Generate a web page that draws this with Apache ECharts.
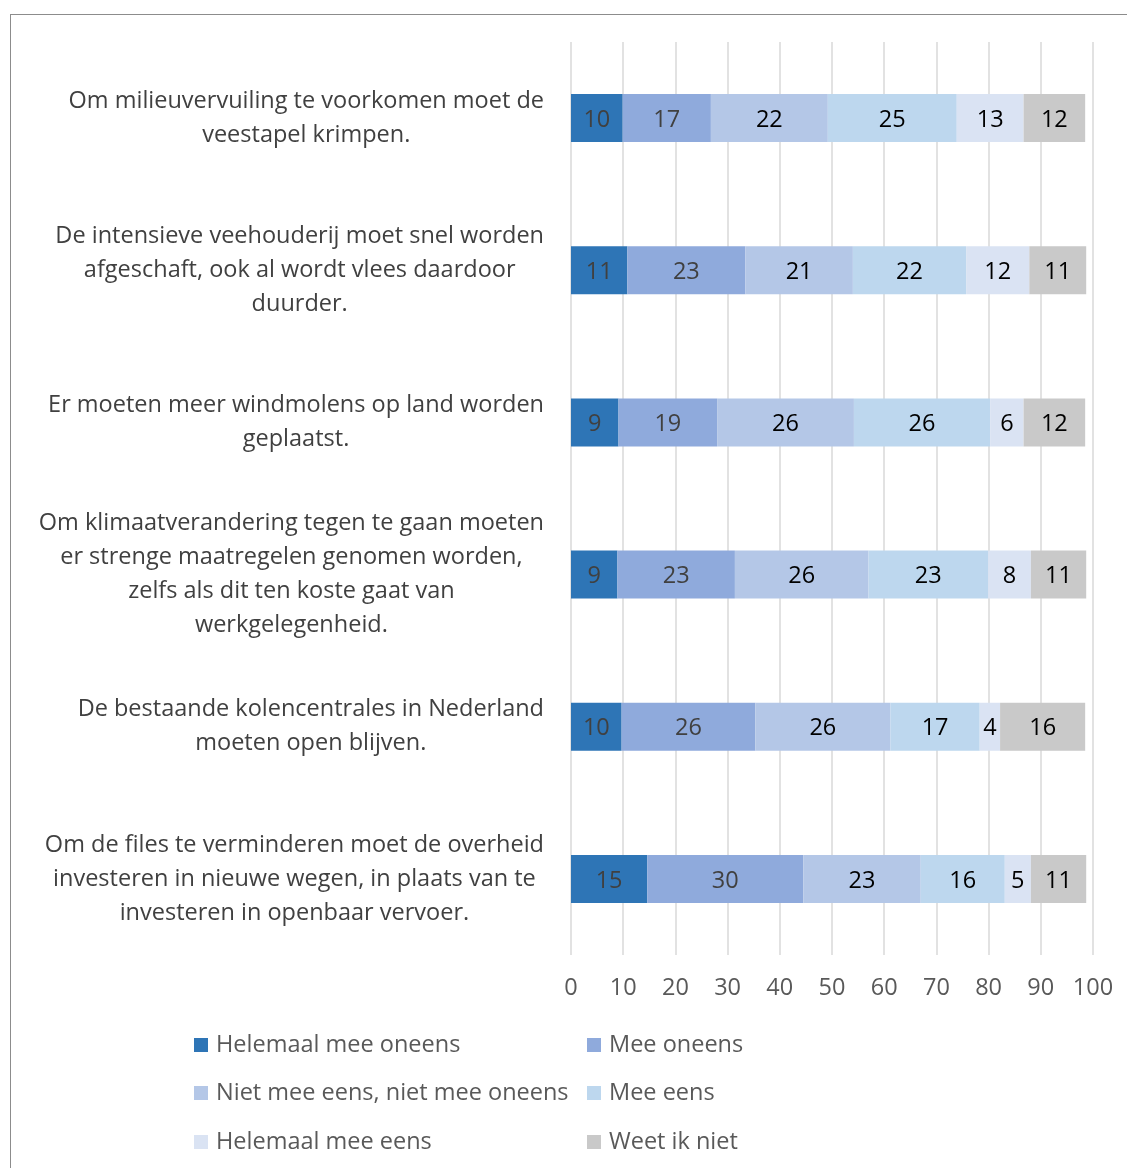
<!DOCTYPE html>
<html>
<head>
<meta charset="utf-8">
<script src="https://cdn.jsdelivr.net/npm/echarts@6/dist/echarts.min.js"></script>
<style>
  html, body { margin: 0; padding: 0; background: #fff; overflow: hidden; }
  #frame { position: absolute; left: 10px; top: 14px; width: 1300px; height: 1300px; border: 1px solid #8c8c8c; }
  #chart { position: absolute; left: 0; top: 0; width: 1127px; height: 1168px; }
</style>
</head>
<body>
<div id="frame"></div>
<div id="chart"></div>
<script>
// stellingen (van boven naar beneden)
const statements = [
  'Om milieuvervuiling te voorkomen moet de\nveestapel krimpen.',
  'De intensieve veehouderij moet snel worden\nafgeschaft, ook al wordt vlees daardoor\nduurder.',
  'Er moeten meer windmolens op land worden\ngeplaatst.',
  'Om klimaatverandering tegen te gaan moeten\ner strenge maatregelen genomen worden,\nzelfs als dit ten koste gaat van\nwerkgelegenheid.',
  'De bestaande kolencentrales in Nederland\nmoeten open blijven.',
  'Om de files te verminderen moet de overheid\ninvesteren in nieuwe wegen, in plaats van te\ninvesteren in openbaar vervoer.'
]

const answers = ['Helemaal mee oneens', 'Mee oneens', 'Niet mee eens, niet mee oneens', 'Mee eens', 'Helemaal mee eens', 'Weet ik niet']
const colors = ['#2e75b6', '#8faadc', '#b4c7e7', '#bdd7ee', '#dae3f3', '#c9c9c9']
const labelColors = ['#404040', '#404040', '#000000', '#000000', '#000000', '#000000']

// percentages per antwoord, zelfde volgorde als statements
const helemaalOneens = [9.9, 10.8, 9.1, 8.9, 9.7, 14.6]
const meeOneens = [16.9, 22.6, 18.9, 22.5, 25.6, 29.9]
const neutraal = [22.4, 20.6, 26.2, 25.6, 25.9, 22.5]
const meeEens = [24.7, 21.7, 26.1, 22.9, 17.1, 16.1]
const helemaalEens = [12.8, 12.1, 6.4, 8.2, 3.9, 5.0]
const weetNiet = [11.8, 10.9, 11.8, 10.6, 16.3, 10.6]

const xTicks = [0, 10, 20, 30, 40, 50, 60, 70, 80, 90, 100]

const values = [helemaalOneens, meeOneens, neutraal, meeEens, helemaalEens, weetNiet]
const font = 'Open Sans'
const fs = 23.5

const series = answers.map((name, i) => ({
  name: name,
  type: 'bar',
  stack: 'totaal',
  barWidth: 48,
  data: values[i],
  itemStyle: { color: colors[i] },
  label: {
    show: true,
    position: 'inside',
    offset: [0, 2],
    fontFamily: font,
    fontSize: fs,
    color: labelColors[i],
    formatter: p => Math.round(p.value)
  },
  emphasis: { disabled: true }
}))

// losse legenda per item, 2 kolommen x 3 rijen
const legendPos = [[194, 1033], [587, 1033], [194, 1081], [587, 1081], [194, 1130], [587, 1130]]
const legends = answers.map((name, i) => ({
  data: [name],
  left: legendPos[i][0],
  top: legendPos[i][1],
  padding: 0,
  itemWidth: 14,
  itemHeight: 14,
  itemGap: 0,
  icon: 'rect',
  textStyle: { fontFamily: font, fontSize: fs, color: '#595959', padding: [0, 0, 0, 3] },
  selectedMode: false
}))

const chart = echarts.init(document.getElementById('chart'))
chart.setOption({
  animation: false,
  color: colors,
  grid: { left: 571, right: 34, top: 42, bottom: 213 },
  legend: legends,
  xAxis: {
    type: 'value',
    min: 0,
    max: 100,
    interval: 10,
    axisLine: { show: false },
    axisTick: { show: false },
    splitLine: { lineStyle: { color: '#d9d9d9', width: 1.5 } },
    axisLabel: {
      margin: 21,
      fontFamily: font,
      fontSize: fs,
      color: '#595959',
      formatter: v => xTicks.indexOf(v) >= 0 ? String(v) : ''
    }
  },
  yAxis: {
    type: 'category',
    inverse: true,
    data: statements,
    axisLine: { show: false },
    axisTick: { show: false },
    axisLabel: {
      margin: 27,
      align: 'right',
      formatter: v => v.split('\n').map(l => '{c|' + l + '}').join('\n'),
      rich: {
        c: {
          align: 'center',
          fontFamily: font,
          fontSize: fs,
          lineHeight: 34,
          color: '#404040'
        }
      }
    }
  },
  series: series
})
</script>
</body>
</html>
